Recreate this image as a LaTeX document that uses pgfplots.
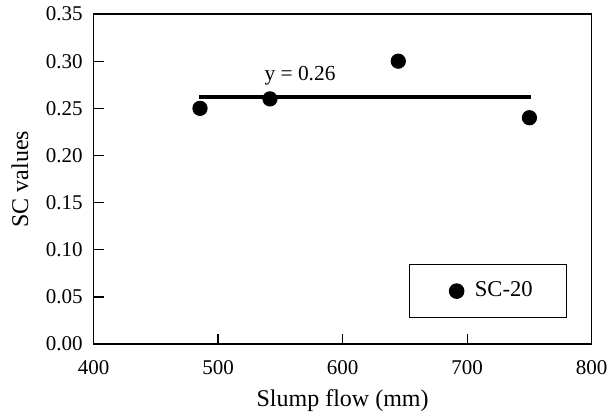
\documentclass[border=0pt]{standalone}
\usepackage{pgfplots}
\pgfplotsset{compat=1.18}
\usetikzlibrary{calc}
\usepackage{fontspec}
\setmainfont{Liberation Serif}
\begin{document}
\fontsize{12}{14}\selectfont
\begin{tikzpicture}
\begin{axis}[
  scale only axis,
  width=249pt, height=165pt,
  xmin=400, xmax=800, ymin=0, ymax=0.35,
  xtick={400,500,600,700,800},
  ytick={0,0.05,...,0.35},
  tick align=inside,
  xtick pos=bottom, ytick pos=left,
  major tick length=5pt,
  axis line style={line width=0.7pt},
  tick style={black, line width=0.6pt},
  /pgf/number format/assume math mode=true,
  ticklabel style={font=\fontsize{10.5}{12}\selectfont},
  yticklabel style={anchor=east, inner xsep=0pt, xshift=-5.25pt, /pgf/number format/.cd, fixed, fixed zerofill, precision=2},
  xticklabel style={anchor=center, inner sep=0pt, yshift=-11.5pt, /pgf/number format/.cd, fixed, 1000 sep={}},
  xlabel={Slump flow (mm)},
  ylabel={SC values},
  label style={font=\fontsize{12}{14}\selectfont},
  xlabel style={at={(axis description cs:0.5,-0.1697)}, anchor=center, inner sep=0pt},
  ylabel style={at={(axis description cs:-0.1476,0.5)}, anchor=center, inner sep=0pt},
  legend style={at={(0.951,0.079)}, anchor=south east, draw=black, line width=0.6pt,
    inner xsep=15pt, inner ysep=6.5pt, font=\fontsize{11.3}{13}\selectfont},
  legend image code/.code={\path[draw=none] (0cm,0cm) -- (0.55cm,0cm); \draw[#1] plot coordinates {(0.3cm,0cm)};},
  legend cell align=left,
]
\addplot[only marks, mark=*, mark size=3.6pt, black] coordinates {
  (485.5,0.25) (541.7,0.26) (644.7,0.30) (750,0.24)
};
\addlegendentry{SC-20}
\addplot[black, line width=2pt, forget plot] coordinates {(484.7,0.2623) (751.5,0.2623)};
\node[anchor=base west, inner sep=0pt, font=\fontsize{10.7}{12.5}\selectfont] at (axis cs:537,0.279) {y = 0.26};
\end{axis}
\pgfresetboundingbox
\path ($(current axis.south west)+(-46.75pt,-37pt)$) rectangle ($(current axis.north east)+(7.65pt,7pt)$);
\end{tikzpicture}
\end{document}
